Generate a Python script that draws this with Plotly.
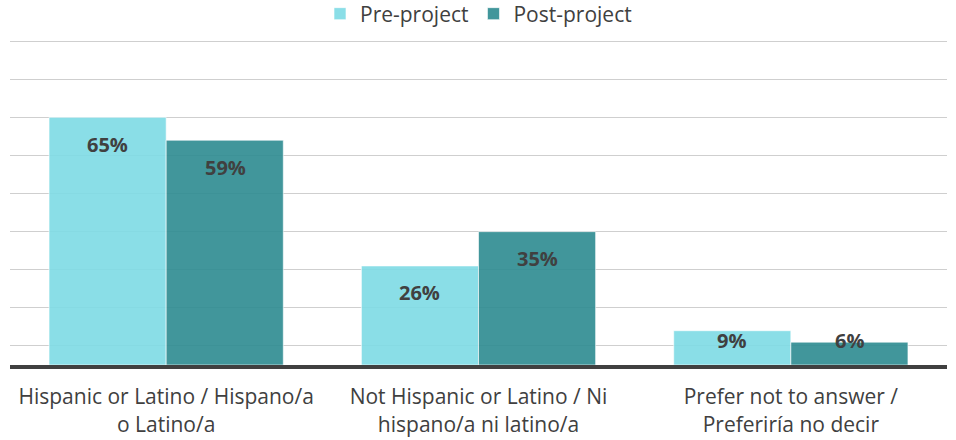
import plotly.graph_objects as go

categories = ["Hispanic or Latino / Hispano/a<br>o Latino/a",
              "Not Hispanic or Latino / Ni<br>hispano/a ni latino/a",
              "Prefer not to answer /<br>Preferiría no decir"]
series_names = ["Pre-project", "Post-project"]
pre_values = [0.65, 0.26, 0.09]
post_values = [0.59, 0.35, 0.06]
pre_labels = ["65%", "26%", "9%"]
post_labels = ["59%", "35%", "6%"]

colors = ["rgba(125,218,228,0.9)", "rgba(44,139,144,0.9)"]
FONT = "Open Sans"
TXT = "#404040"

fig = go.Figure()
for name, vals, col in zip(series_names, [pre_values, post_values], colors):
    fig.add_trace(go.Bar(x=categories, y=vals, name=name,
                         marker=dict(color=col, line=dict(color="rgba(255,255,255,0.6)", width=1)),
                         hoverinfo="skip"))

# data labels ("inside end"), kept above baseline for small bars
ann = []
for i, (vals, labs) in enumerate([(pre_values, pre_labels), (post_values, post_labels)]):
    for j, (v, lab) in enumerate(zip(vals, labs)):
        ypos = max(v - 0.0706, 0.0654)
        ann.append(dict(x=categories[j], y=ypos, xref="x", yref="y", text="<b>%s</b>" % lab,
                        showarrow=False, xshift=(-59 if i == 0 else 59),
                        font=dict(family=FONT, size=20, color=TXT), yanchor="middle"))

fig.update_layout(
    width=956, height=440,
    margin=dict(l=10, r=9, t=40, b=75, autoexpand=False),
    paper_bgcolor="white", plot_bgcolor="white",
    barmode="group", bargap=0.25, bargroupgap=0.0,
    font=dict(family=FONT, size=21, color=TXT),
    legend=dict(orientation="h", x=0.5, xanchor="center", y=1.08, yanchor="middle",
                font=dict(family=FONT, size=21, color=TXT), itemwidth=30,
                traceorder="normal"),
    annotations=ann,
    showlegend=True,
)
fig.update_yaxes(range=[0, 0.853], tick0=0.05, dtick=0.1, showticklabels=False,
                 showgrid=True, gridcolor="#CFCFCF", gridwidth=1, zeroline=False)
fig.update_xaxes(showline=True, linecolor="#404040", linewidth=4, ticks="",
                 ticklabelstandoff=10, automargin=False,
                 tickfont=dict(family=FONT, size=21, color=TXT))

fig.write_html("out.html")
